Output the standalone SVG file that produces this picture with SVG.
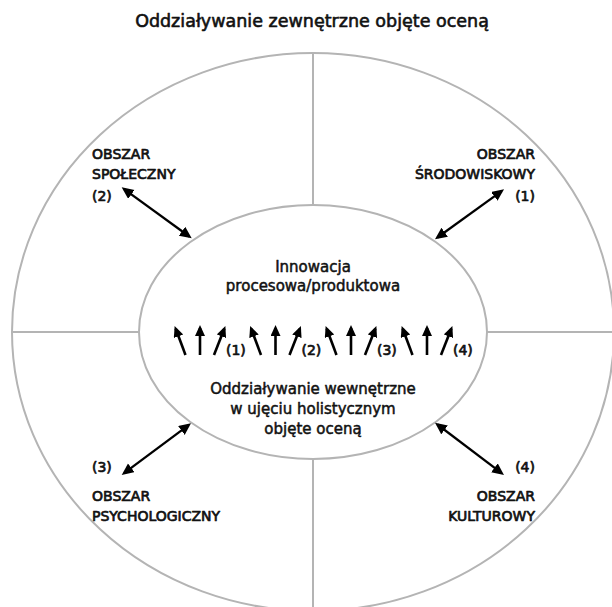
<svg xmlns="http://www.w3.org/2000/svg" width="612" height="607" viewBox="0 0 612 607">
<style>
.g{fill:none;stroke:#b4b4b4;stroke-width:2}
.t{font-family:"DejaVu Sans","Liberation Sans",sans-serif;fill:#111;stroke:#111;stroke-width:0.7;stroke-linejoin:round}
.lab{font-size:14px}
.in{font-size:15px;text-anchor:middle;stroke-width:0.5}
.ttl{font-size:17.5px;text-anchor:middle;stroke-width:0.6}
.c{stroke:#000;stroke-width:2.6;fill:none;marker-end:url(#sh)}
.d{stroke:#000;stroke-width:2.3;fill:none;marker-start:url(#ah);marker-end:url(#ah)}
</style>
<defs>
<marker id="ah" markerUnits="userSpaceOnUse" markerWidth="14" markerHeight="12" refX="9" refY="5.5" orient="auto-start-reverse">
<path d="M0,0 L12,5.5 L0,11 z" fill="#000"/>
</marker>
<marker id="sh" markerUnits="userSpaceOnUse" markerWidth="13" markerHeight="11" refX="8" refY="5" orient="auto">
<path d="M0,0 L11,5 L0,10 z" fill="#000"/>
</marker>
</defs>
<rect width="612" height="607" fill="#fff"/>
<text class="t ttl" x="312" y="27">Oddziaływanie zewnętrzne objęte oceną</text>
<g id="outer">
<ellipse class="g" cx="313" cy="332" rx="301" ry="279"/>
<line class="g" x1="313" y1="53" x2="313" y2="205"/>
<line class="g" x1="313" y1="459" x2="313" y2="612"/>
<line class="g" x1="12" y1="332" x2="139" y2="332"/>
<line class="g" x1="487" y1="332" x2="614" y2="332"/>
</g>
<g id="inner">
<ellipse class="g" cx="313" cy="332" rx="174" ry="127" fill="#fff"/>
<text class="t in" x="313" y="272">Innowacja</text>
<text class="t in" x="313" y="291">procesowa/produktowa</text>
<text class="t in" x="313" y="394">Oddziaływanie wewnętrzne</text>
<text class="t in" x="313" y="414">w ujęciu holistycznym</text>
<text class="t in" x="313" y="434">objęte oceną</text>
</g>
<g id="spoleczny">
<text class="t lab" x="92" y="159">OBSZAR</text>
<text class="t lab" x="92" y="179">SPOŁECZNY</text>
<text class="t lab" x="92" y="201">(2)</text>
</g>
<g id="srodowiskowy" style="text-anchor:end">
<text class="t lab" x="535" y="159">OBSZAR</text>
<text class="t lab" x="535" y="179">ŚRODOWISKOWY</text>
<text class="t lab" x="535" y="201">(1)</text>
</g>
<g id="psychologiczny">
<text class="t lab" x="92" y="472">(3)</text>
<text class="t lab" x="92" y="501">OBSZAR</text>
<text class="t lab" x="92" y="521">PSYCHOLOGICZNY</text>
</g>
<g id="kulturowy" style="text-anchor:end">
<text class="t lab" x="535" y="472">(4)</text>
<text class="t lab" x="535" y="501">OBSZAR</text>
<text class="t lab" x="535" y="521">KULTUROWY</text>
</g>
<g id="connectors">
<line class="d" x1="124.1" y1="189.1" x2="189.3" y2="236.5"/>
<line class="d" x1="501.6" y1="191.1" x2="437.4" y2="237.5"/>
<line class="d" x1="188.6" y1="425.1" x2="124.1" y2="473.2"/>
<line class="d" x1="437.4" y1="424.5" x2="501.6" y2="473.2"/>
<g id="small-arrows">
<g id="grp1">
<line class="c" x1="185.5" y1="355" x2="175.7" y2="328.8"/>
<line class="c" x1="200" y1="355" x2="200" y2="328"/>
<line class="c" x1="214" y1="355" x2="224.3" y2="328.8"/>
<text class="t lab" x="226" y="355">(1)</text>
</g>
<g id="grp2" transform="translate(75.5,0)">
<line class="c" x1="185.5" y1="355" x2="175.7" y2="328.8"/>
<line class="c" x1="200" y1="355" x2="200" y2="328"/>
<line class="c" x1="214" y1="355" x2="224.3" y2="328.8"/>
<text class="t lab" x="226" y="355">(2)</text>
</g>
<g id="grp3" transform="translate(151,0)">
<line class="c" x1="185.5" y1="355" x2="175.7" y2="328.8"/>
<line class="c" x1="200" y1="355" x2="200" y2="328"/>
<line class="c" x1="214" y1="355" x2="224.3" y2="328.8"/>
<text class="t lab" x="226" y="355">(3)</text>
</g>
<g id="grp4" transform="translate(227,0)">
<line class="c" x1="185.5" y1="355" x2="175.7" y2="328.8"/>
<line class="c" x1="200" y1="355" x2="200" y2="328"/>
<line class="c" x1="214" y1="355" x2="224.3" y2="328.8"/>
<text class="t lab" x="226" y="355">(4)</text>
</g>
</g>
</g>
</svg>
